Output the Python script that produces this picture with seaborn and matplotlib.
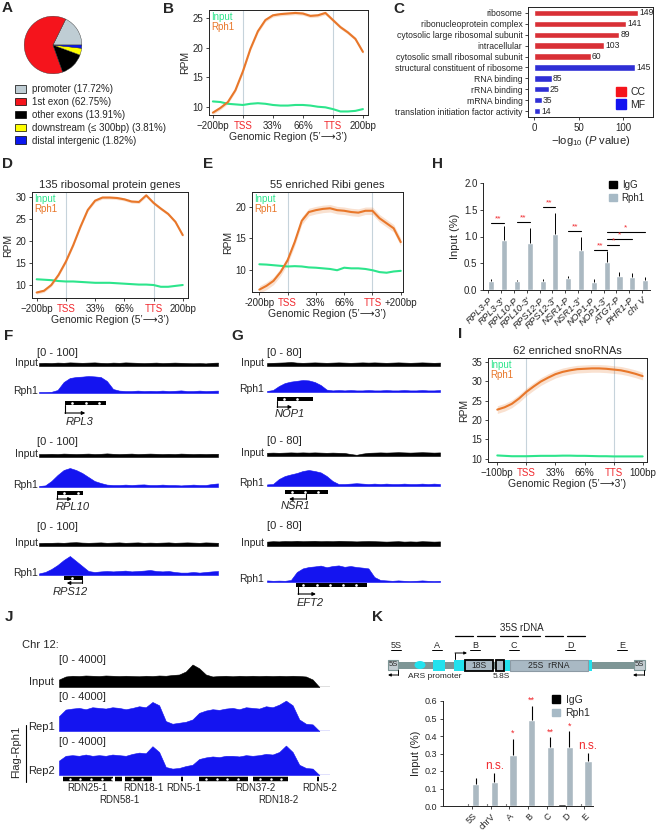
import numpy as np
import pandas as pd
import matplotlib
matplotlib.use('Agg')
import matplotlib.pyplot as plt
import seaborn as sns
from matplotlib.patches import Patch, Rectangle, Ellipse
from matplotlib.lines import Line2D

W, H = 660, 831

# ---------------- data ----------------
# A: peak distribution
pie_labels = ['promoter (17.72%)', '1st exon (62.75%)', 'other exons (13.91%)',
              'downstream (\u2264 300bp) (3.81%)', 'distal intergenic (1.82%)']
pie_values = [17.72, 62.75, 13.91, 3.81, 1.82]
pie_colors = ['#BFCDD4', '#F5141C', '#000000', '#FFFF00', '#0B18EE']

# B, D, E, I: metagene profiles (x: -flank, TSS, 33%, 66%, TTS, +flank)
prof_pos = [0, 0.25, 0.5, 0.75, 1, 1.25, 1.5, 1.75, 2, 2.25, 2.5,
            2.75, 3, 3.25, 3.5, 3.75, 4, 4.25, 4.5, 4.75, 5]
b_rph1 = [9.0, 9.8, 10.8, 12.8, 16.0, 19.8, 22.8, 24.7, 25.5, 25.7, 25.8,
          25.9, 25.8, 25.4, 25.5, 25.9, 24.7, 23.5, 22.6, 21.5, 19.3]
b_input = [10.9, 10.8, 10.5, 10.4, 10.3, 10.5, 10.6, 10.5, 10.3, 10.2, 10.2,
           10.3, 10.3, 10.2, 10.0, 9.9, 9.6, 9.2, 9.2, 9.3, 9.6]
d_rph1 = [8.3, 8.7, 10.0, 12.3, 15.3, 19.0, 23.2, 27.0, 29.1, 29.8, 29.8,
          29.7, 29.4, 28.9, 28.8, 30.3, 28.6, 27.3, 26.1, 24.3, 21.3]
d_input = [11.3, 11.2, 11.1, 10.9, 10.8, 10.8, 10.7, 10.6, 10.5, 10.5, 10.5,
           10.4, 10.3, 10.2, 10.1, 10.1, 10.0, 9.6, 9.6, 9.8, 10.0]
e_rph1 = [6.8, 7.4, 8.2, 9.6, 11.5, 14.4, 17.8, 19.2, 19.5, 19.7, 19.8,
          19.5, 19.4, 19.2, 19.1, 19.4, 19.4, 18.2, 17.4, 16.6, 14.4]
e_input = [10.85, 10.8, 10.7, 10.6, 10.5, 10.55, 10.5, 10.35, 10.3, 10.2, 10.1,
           9.9, 10.3, 10.2, 10.2, 10.1, 9.9, 9.6, 9.5, 9.7, 9.8]
i_rph1 = [22.7, 23.3, 24.2, 25.6, 27.3, 28.7, 30.0, 31.0, 31.9, 32.5, 32.9,
          33.2, 33.3, 33.4, 33.4, 33.3, 33.1, 32.9, 32.5, 32.0, 31.4]
i_input = [10.8, 10.7, 10.6, 10.6, 10.6, 10.65, 10.7, 10.7, 10.7, 10.75, 10.75,
           10.7, 10.7, 10.65, 10.6, 10.6, 10.55, 10.55, 10.55, 10.55, 10.55]
band_b, band_d, band_e, band_i = 0.3, 0.35, 0.6, 1.0
prof_labels_200 = ['\u2212200bp', 'TSS', '33%', '66%', 'TTS', '200bp']
prof_labels_e = ['-200bp', 'TSS', '33%', '66%', 'TTS', '+200bp']
prof_labels_100 = ['\u2212100bp', 'TSS', '33%', '66%', 'TTS', '100bp']

# C: GO enrichment
go_terms = ['ribosome', 'ribonucleoprotein complex', 'cytosolic large ribosomal subunit',
            'intracellular', 'cytosolic small ribosomal subunit',
            'structural constituent of ribosome', 'RNA binding', 'rRNA binding',
            'mRNA binding', 'translation initiation factor activity']
go_logp = [116.3, 102.9, 95.4, 78.3, 63.4, 113.0, 19.8, 16.4, 8.6, 6.7]
go_count = [149, 141, 89, 103, 60, 145, 85, 25, 35, 14]
go_class = ['CC'] * 5 + ['MF'] * 5

# H: ChIP-qPCR
h_genes = ['RPL3-P', "RPL3-3'", 'RPL10-P', "RPL10-3'", 'RPS12-P', "RPS12-3'",
           'NSR1-P', "NSR1-3'", 'NOP1-P', "NOP1-3'", 'ATG7-P', 'PHR1-P', 'chr V']
h_igg = [0.01, 0.01, 0.01, 0.01, 0.015, 0.01, 0.01, 0.01, 0.01, 0.01, 0.01, 0.015, 0.01]
h_igg_err = [0.005] * 13
h_rph1 = [0.17, 0.93, 0.16, 0.87, 0.17, 1.05, 0.23, 0.75, 0.15, 0.53, 0.26, 0.24, 0.19]
h_rph1_err = [0.03, 0.27, 0.02, 0.29, 0.04, 0.39, 0.04, 0.25, 0.05, 0.19, 0.08, 0.08, 0.05]
h_sig = [(0, 1, 1.26, '**'), (2, 3, 1.27, '**'), (4, 5, 1.55, '**'), (6, 7, 1.10, '**'),
         (8, 9, 0.75, '**'), (9, 10, 0.84, '*'), (9, 11, 0.96, '*'), (9, 12, 1.09, '*')]

# F, G: genome browser tracks (signal scaled to track height)
f_input = [
    [0.15, 0.16, 0.15, 0.17, 0.16, 0.18, 0.17, 0.16, 0.17, 0.18, 0.16, 0.15, 0.17, 0.16, 0.18,
     0.17, 0.16, 0.15, 0.16, 0.17, 0.15, 0.16, 0.17, 0.16, 0.15, 0.14, 0.15, 0.13, 0.16, 0.17],
    [0.15, 0.15, 0.16, 0.15, 0.17, 0.16, 0.15, 0.16, 0.17, 0.15, 0.16, 0.18, 0.16, 0.15, 0.16,
     0.17, 0.15, 0.16, 0.17, 0.16, 0.15, 0.16, 0.15, 0.17, 0.16, 0.15, 0.16, 0.15, 0.16, 0.16],
    [0.15, 0.16, 0.16, 0.17, 0.16, 0.18, 0.19, 0.17, 0.16, 0.17, 0.18, 0.16, 0.17, 0.18, 0.16,
     0.17, 0.18, 0.16, 0.17, 0.16, 0.17, 0.18, 0.16, 0.17, 0.18, 0.17, 0.16, 0.18, 0.17, 0.16]]
f_rph1 = [
    [0.05, 0.05, 0.06, 0.15, 0.55, 0.75, 0.8, 0.82, 0.85, 0.83, 0.8, 0.6, 0.2, 0.12, 0.1,
     0.1, 0.12, 0.1, 0.11, 0.1, 0.12, 0.1, 0.11, 0.13, 0.1, 0.1, 0.12, 0.1, 0.11, 0.12],
    [0.05, 0.08, 0.3, 0.6, 0.85, 0.95, 0.85, 0.7, 0.5, 0.3, 0.2, 0.12, 0.1, 0.1, 0.12,
     0.1, 0.12, 0.13, 0.1, 0.1, 0.12, 0.1, 0.1, 0.08, 0.1, 0.12, 0.1, 0.1, 0.15, 0.18],
    [0.08, 0.15, 0.3, 0.5, 0.75, 0.95, 0.7, 0.45, 0.2, 0.15, 0.18, 0.2, 0.18, 0.2, 0.22,
     0.18, 0.2, 0.22, 0.25, 0.2, 0.18, 0.2, 0.15, 0.12, 0.12, 0.15, 0.12, 0.15, 0.18, 0.2]]
g_input = [
    [0.15, 0.16, 0.17, 0.18, 0.2, 0.17, 0.16, 0.17, 0.18, 0.17, 0.16, 0.17, 0.18, 0.17, 0.16,
     0.17, 0.18, 0.17, 0.18, 0.17, 0.16, 0.17, 0.18, 0.17, 0.16, 0.17, 0.18, 0.17, 0.16, 0.17],
    [0.16, 0.17, 0.16, 0.17, 0.18, 0.17, 0.18, 0.17, 0.18, 0.17, 0.16, 0.17, 0.16, 0.15, 0.1,
     0.06, 0.12, 0.16, 0.17, 0.18, 0.17, 0.18, 0.19, 0.18, 0.17, 0.18, 0.19, 0.18, 0.17, 0.18],
    [0.22, 0.24, 0.23, 0.25, 0.24, 0.26, 0.24, 0.25, 0.26, 0.24, 0.25, 0.24, 0.26, 0.25, 0.24,
     0.23, 0.24, 0.25, 0.24, 0.23, 0.22, 0.23, 0.24, 0.22, 0.23, 0.22, 0.24, 0.23, 0.22, 0.23]]
g_rph1 = [
    [0.05, 0.1, 0.3, 0.45, 0.52, 0.56, 0.6, 0.58, 0.5, 0.35, 0.12, 0.08, 0.1, 0.08, 0.1,
     0.08, 0.08, 0.1, 0.08, 0.08, 0.1, 0.08, 0.08, 0.1, 0.08, 0.08, 0.1, 0.08, 0.08, 0.1],
    [0.08, 0.1, 0.35, 0.5, 0.58, 0.65, 0.75, 0.8, 0.75, 0.68, 0.5, 0.25, 0.1, 0.1, 0.12,
     0.14, 0.12, 0.1, 0.12, 0.1, 0.12, 0.1, 0.1, 0.12, 0.1, 0.1, 0.12, 0.1, 0.12, 0.1],
    [0.08, 0.06, 0.07, 0.06, 0.1, 0.5, 0.68, 0.75, 0.78, 0.82, 0.74, 0.8, 0.83, 0.76, 0.8,
     0.75, 0.72, 0.68, 0.25, 0.1, 0.08, 0.06, 0.08, 0.06, 0.05, 0.06, 0.08, 0.06, 0.05, 0.06]]
f_scale = '[0 - 100]'
g_scale = '[0 - 80]'
# name, box start, box end, arrow base, arrow tip (track bins)
f_genes = [('RPL3', 4.2, 10.9, 4.2, 7.5), ('RPL10', 2.9, 7.1, 2.9, 5.3), ('RPS12', 4.1, 7.1, 7.0, 4.5)]
g_genes = [('NOP1', 1.7, 7.7, 1.7, 4.2), ('NSR1', 3.0, 10.2, 6.5, 3.7), ('EFT2', 4.9, 16.8, 5.2, 8.2)]

# J: rDNA locus tracks
j_input = [0.3, 0.42, 0.45, 0.44, 0.46, 0.45, 0.44, 0.46, 0.45, 0.44, 0.45, 0.44, 0.43, 0.45,
           0.44, 0.46, 0.45, 0.48, 0.5, 0.62, 0.9, 0.75, 0.5, 0.42, 0.44, 0.45, 0.43, 0.45,
           0.44, 0.45, 0.44, 0.45, 0.44, 0.45, 0.44, 0.45, 0.44, 0.42, 0.3, 0.0]
j_rep1 = [0.45, 0.65, 0.68, 0.7, 0.66, 0.72, 0.7, 0.68, 0.72, 0.7, 0.66, 0.7, 0.75, 0.72,
          0.88, 0.78, 0.3, 0.22, 0.25, 0.28, 0.35, 0.55, 0.62, 0.66, 0.64, 0.68, 0.7, 0.66,
          0.72, 0.7, 0.68, 0.75, 0.72, 0.8, 0.92, 0.78, 0.35, 0.22, 0.2, 0.0]
j_rep2 = [0.45, 0.6, 0.62, 0.6, 0.64, 0.6, 0.62, 0.6, 0.64, 0.62, 0.6, 0.66, 0.7, 0.68,
          0.9, 0.72, 0.25, 0.2, 0.22, 0.28, 0.32, 0.5, 0.55, 0.58, 0.56, 0.6, 0.6, 0.58,
          0.62, 0.6, 0.62, 0.66, 0.64, 0.72, 0.92, 0.72, 0.32, 0.22, 0.2, 0.0]
j_gene_segs = [(0.6, 8.1), (8.4, 9.4), (9.9, 13.9), (18.3, 18.6), (21.0, 28.3), (29.1, 34.3), (38.6, 38.9)]
j_gene_names = [('RDN25-1', 4.3, 0), ('RDN58-1', 9.1, 1), ('RDN18-1', 12.6, 0), ('RDN5-1', 18.7, 0),
                ('RDN37-2', 29.4, 0), ('RDN18-2', 32.8, 1), ('RDN5-2', 39.1, 0)]

# K: rDNA repeat map (map units) and ChIP-qPCR
k_backbone = (388, 645)
k_5s = [(388, 398), (634, 645)]
k_cyan = [(433, 445), (454, 464), (505, 510), (588, 592)]
k_ars = 420
k_rrna = [('18S', 465, 493, 'black'), ('', 496, 504, 'black'), ('25S  rRNA', 510, 588, '#8C9AA4')]
k_amplicons = [('5S', 396), ('A', 437), ('B', 475), ('C', 514), ('D', 570), ('E', 622)]
k_35s_segs = [(455, 473), (477, 495), (500, 518), (522, 540), (545, 563), (567, 585)]
k_sites = ['5S', 'chrV', 'A', 'B', 'C', 'D', 'E']
k_igg = [0.008, 0.007, 0.008, 0.006, 0.006, 0.012, 0.007]
k_igg_err = [0.002] * 7
k_rph1 = [0.125, 0.136, 0.293, 0.494, 0.335, 0.337, 0.259]
k_rph1_err = [0.035, 0.052, 0.09, 0.077, 0.058, 0.09, 0.044]
k_sig = ['', 'n.s.', '*', '**', '**', '*', 'n.s.']

# ---------------- style ----------------
c_rph1 = '#E8772A'
c_input = '#2DE58C'
c_red = '#F0282D'
c_vline = '#C6D3DB'
c_bar = '#A7BAC6'
c_blue = '#1414F0'

sns.set_theme(style='ticks')
plt.rcParams['font.family'] = ['Liberation Sans', 'DejaVu Sans']
plt.rcParams.update({
    'axes.linewidth': 0.7, 'axes.edgecolor': '#222222',
    'xtick.major.width': 0.6, 'ytick.major.width': 0.6,
    'xtick.major.size': 2.5, 'ytick.major.size': 2.5,
    'xtick.major.pad': 1.5, 'ytick.major.pad': 1.5,
    'xtick.labelsize': 7, 'ytick.labelsize': 7, 'axes.labelsize': 7.5,
    'mathtext.fontset': 'custom', 'mathtext.rm': 'Liberation Sans',
    'mathtext.it': 'Liberation Sans:italic'})

fig = plt.figure(figsize=(W / 100, H / 100), dpi=100)


def px_ax(x0, y0, x1, y1):
    return fig.add_axes([x0 / W, 1 - y1 / H, (x1 - x0) / W, (y1 - y0) / H])


def ftext(x, y, s, **kw):
    kw.setdefault('fontsize', 7.5)
    kw.setdefault('va', 'center')
    fig.text(x / W, 1 - y / H, s, **kw)


def letter(x, y, s):
    ftext(x, y, s, fontsize=11, fontweight='bold', ha='left')


def profile(box, rph1, inp, band, ylim, yticks, xlim, xlabels, title=None):
    ax = px_ax(*box)
    for v in (1, 4):
        ax.axvline(v, color=c_vline, lw=0.8, zorder=0)
    rph1 = np.asarray(rph1)
    ax.fill_between(prof_pos, rph1 - band, rph1 + band, color=c_rph1, alpha=0.22, lw=0)
    df = pd.DataFrame({'pos': prof_pos, 'Input': inp, 'Rph1': rph1})
    sns.lineplot(data=df, x='pos', y='Input', color=c_input, lw=1.5, ax=ax)
    sns.lineplot(data=df, x='pos', y='Rph1', color=c_rph1, lw=1.5, ax=ax)
    ax.set_xlim(xlim)
    ax.set_ylim(ylim)
    ax.set_yticks(yticks)
    ax.set_xticks([0, 1, 2, 3, 4, 5])
    ax.set_xticklabels(xlabels)
    for lab in ax.get_xticklabels():
        if lab.get_text() in ('TSS', 'TTS'):
            lab.set_color(c_red)
    ax.set_xlabel('Genomic Region (5\u2019\u27f63\u2019)', labelpad=1)
    ax.set_ylabel('RPM', labelpad=2)
    ax.annotate('Input', xy=(0, 1), xycoords='axes fraction', xytext=(1.5, -1.5),
                textcoords='offset points', va='top', color=c_input, fontsize=7)
    ax.annotate('Rph1', xy=(0, 1), xycoords='axes fraction', xytext=(1.5, -9),
                textcoords='offset points', va='top', color=c_rph1, fontsize=7)
    if title:
        ax.set_title(title, fontsize=8, pad=3)
    return ax


def track(box, values, color, xmax=None):
    ax = px_ax(*box)
    x = np.arange(len(values))
    ax.fill_between(x, 0, values, color=color, lw=0.4, edgecolor=color)
    ax.axhline(0, color=color, lw=0.9)
    ax.set_xlim(0, xmax if xmax else len(values) - 1)
    ax.set_ylim(0, 1)
    ax.axis('off')
    return ax


def gene(x0, x1, nbins, g, box_y, arrow_y, label_y, label_x):
    name, s, e, base, tip = g
    ax = px_ax(x0, box_y - 4, x1, label_y + 6)
    ax.set_xlim(0, nbins - 1)
    ax.set_ylim(label_y + 6, box_y - 4)
    ax.axis('off')
    ax.add_patch(Rectangle((s, box_y - 2.3), e - s, 4.6, color='black', lw=0))
    dots = np.arange(s + 1.2, e - 0.5, 2.2)
    ax.plot(dots, [box_y] * len(dots), 'o', ms=0.9, color='white')
    ax.plot([base, base], [box_y + 2.3, arrow_y], color='black', lw=0.8)
    ax.annotate('', xy=(tip, arrow_y), xytext=(base, arrow_y),
                arrowprops=dict(arrowstyle='-|>', lw=0.8, color='black', mutation_scale=5,
                                shrinkA=0, shrinkB=0))
    ax.text(label_x, label_y, name, style='italic', ha='center', va='center', fontsize=8)


# ---------------- A ----------------
letter(2, 8, 'A')
ax = px_ax(17, 9, 89, 81)
ax.pie(pie_values, colors=pie_colors, startangle=0, counterclock=True,
       wedgeprops=dict(lw=0.3, edgecolor='#333333'))
ax.set_aspect('equal')
fig.legend([Patch(facecolor=c, edgecolor='black', lw=0.5) for c in pie_colors], pie_labels,
           loc='upper left', bbox_to_anchor=(15 / W, 1 - 84 / H), frameon=False, fontsize=7,
           handlelength=1.1, handleheight=0.85, labelspacing=0.3, handletextpad=0.6,
           borderpad=0, borderaxespad=0)

# ---------------- B ----------------
letter(163, 9, 'B')
profile((209, 10, 368, 115), b_rph1, b_input, band_b, (8.6, 26.4), [10, 15, 20, 25],
        (-0.13, 5.17), prof_labels_200)

# ---------------- C ----------------
letter(393, 9, 'C')
ax = px_ax(528, 7, 653, 117)
sns.barplot(x=go_logp, y=go_terms, hue=go_class, palette={'CC': '#F5141C', 'MF': c_blue},
            dodge=False, width=0.6, legend=False, ax=ax)
for i, (v, c) in enumerate(zip(go_logp, go_count)):
    ax.text(v + 1.5, i, str(c), va='center', fontsize=6.2)
ax.set_xlim(-6.7, 133)
ax.set_ylim(9.55, -0.55)
ax.set_xticks([0, 50, 100])
ax.tick_params(axis='y', labelsize=6.2)
ax.set_ylabel('')
ax.set_xlabel(r'$\mathregular{-log_{10}}$ ($\it{P}$ value)', fontsize=8, labelpad=1)
ax.legend(handles=[Patch(color='#F5141C'), Patch(color=c_blue)], labels=['CC', 'MF'],
          loc='lower right', frameon=False, fontsize=7.5, handlelength=1.0, handleheight=1.0,
          handletextpad=0.4, labelspacing=0.25, borderaxespad=0.3)

# ---------------- D, E ----------------
letter(2, 164, 'D')
profile((32, 192, 188, 298), d_rph1, d_input, band_d, (7.06, 31.06), [10, 15, 20, 25, 30],
        (-0.16, 5.18), prof_labels_200, title='135 ribosomal protein genes')
letter(203, 164, 'E')
profile((252, 192, 403, 292), e_rph1, e_input, band_e, (6.42, 22.4), [10, 15, 20],
        (-0.26, 5.08), prof_labels_e, title='55 enriched Ribi genes')

# ---------------- H ----------------
letter(432, 164, 'H')
ax = px_ax(483, 183, 650, 290)
h_df = pd.DataFrame({'gene': h_genes * 2, 'group': ['IgG'] * 13 + ['Rph1'] * 13,
                     'val': h_igg + h_rph1})
sns.barplot(data=h_df, x='gene', y='val', hue='group', hue_order=['IgG', 'Rph1'],
            palette={'IgG': 'black', 'Rph1': c_bar}, width=0.95, errorbar=None,
            legend=False, ax=ax)
rph1_x = []
for cont, errs in zip(ax.containers, [h_igg_err, h_rph1_err]):
    xs = [b.get_x() + b.get_width() / 2 for b in cont]
    ys = [b.get_height() for b in cont]
    ax.errorbar(xs, ys, yerr=[np.zeros(len(errs)), errs], fmt='none', ecolor='black',
                elinewidth=0.7)
    rph1_x = xs
for i, j, y, s in h_sig:
    ax.plot([rph1_x[i], rph1_x[j]], [y, y], color='black', lw=0.8)
    ax.text((rph1_x[i] + rph1_x[j]) / 2, y + 0.01, s, color=c_red, ha='center',
            va='bottom', fontsize=6)
ax.set_ylim(0, 2)
ax.set_xlim(-0.42, 12.62)
ax.set_yticks([0, 0.5, 1.0, 1.5, 2.0])
ax.set_yticklabels(['0.0', '0.5', '1.0', '1.5', '2.0'])
ax.set_xlabel('')
ax.set_ylabel('Input (%)', fontsize=8, labelpad=3)
ax.set_xticks(range(13))
ax.set_xticklabels(h_genes, rotation=45, ha='right', rotation_mode='anchor',
                   style='italic', fontsize=6.8)
sns.despine(ax=ax)
fig.legend([Patch(color='black'), Patch(color=c_bar)], ['IgG', 'Rph1'], loc='upper left',
           bbox_to_anchor=(609 / W, 1 - 180 / H), frameon=False, fontsize=7,
           handlelength=0.8, handleheight=0.8, handletextpad=0.5, labelspacing=0.3,
           borderpad=0, borderaxespad=0)

# ---------------- F, G ----------------
letter(4, 336, 'F')
letter(231, 336, 'G')
f_rows = [(353, 366, 393, 403, 413, 422), (442, 457, 487, 493, 499, 507),
          (527, 546, 575, 578, 583, 592)]
g_rows = [(353, 366, 392, 399, 407, 414), (441, 456, 486, 492, 499, 506),
          (526, 546, 582, 585, 594, 603)]
f_label_x = [6.5, 5.5, 5.0]
g_label_x = [3.9, 4.7, 7.2]
for k in range(3):
    sc, ib, rb, by, ay, ly = f_rows[k]
    ftext(37, sc, f_scale, ha='left', fontsize=8)
    track((39, ib - 20, 218, ib), f_input[k], 'black')
    ftext(38, ib - 3, 'Input', ha='right')
    track((39, rb - 20, 218, rb), f_rph1[k], c_blue)
    ftext(38, rb - 2, 'Rph1', ha='right')
    gene(39, 218, 30, f_genes[k], by, ay, ly, f_label_x[k])

    sc, ib, rb, by, ay, ly = g_rows[k]
    ftext(267, sc, g_scale, ha='left', fontsize=8)
    track((267, ib - 20, 440, ib), g_input[k], 'black')
    ftext(264, ib - 3, 'Input', ha='right')
    track((267, rb - 20, 440, rb), g_rph1[k], c_blue)
    ftext(264, rb - 3, 'Rph1', ha='right')
    gene(267, 440, 30, g_genes[k], by, ay, ly, g_label_x[k])

# ---------------- I ----------------
letter(458, 334, 'I')
profile((488, 358, 647, 462), i_rph1, i_input, band_i, (9.1, 36.1), [10, 15, 20, 25, 30, 35],
        (-0.32, 5.15), prof_labels_100, title='62 enriched snoRNAs')

# ---------------- J ----------------
letter(5, 617, 'J')
ftext(22, 645, 'Chr 12:', ha='left', fontsize=8)
for y in (660, 697, 742):
    ftext(59, y, '[0 - 4000]', ha='left', fontsize=8)
track((59, 662, 330, 687), j_input, 'black', xmax=40.6)
ftext(54, 682, 'Input', ha='right', fontsize=8)
track((59, 698, 330, 731), j_rep1, c_blue, xmax=40.6)
track((59, 743, 330, 775), j_rep2, c_blue, xmax=40.6)
ftext(28, 727, 'Rep1', ha='left', fontsize=8)
ftext(28, 771, 'Rep2', ha='left', fontsize=8)
ftext(16, 752, 'Flag-Rph1', ha='center', rotation=90, fontsize=8)
fig.add_artist(Line2D([26 / W, 26 / W], [1 - 725 / H, 1 - 782 / H], color='black', lw=0.8))
ax = px_ax(59, 774, 330, 806)
ax.set_xlim(0, 40.6)
ax.set_ylim(806, 774)
ax.axis('off')
for s, e in j_gene_segs:
    ax.plot([s, e], [779, 779], color='black', lw=3.2, solid_capstyle='butt')
    if e - s > 2:
        dots = np.arange(s + 1.0, e, 1.6)
        ax.plot(dots, [779] * len(dots), 's', ms=0.7, color='white')
for name, x, row in j_gene_names:
    ax.text(x, 788 + 12 * row, name, ha='center', va='center', fontsize=7)

# ---------------- K ----------------
letter(372, 617, 'K')
ax = px_ax(380, 620, 655, 682)
ax.set_xlim(380, 655)
ax.set_ylim(682, 620)
ax.axis('off')
ax.text(522, 628, '35S rDNA', ha='center', va='center', fontsize=7)
for s, e in k_35s_segs:
    ax.plot([s, e], [636, 636], color='black', lw=0.9)
for name, x in k_amplicons:
    ax.text(x, 645, name, ha='center', va='center', fontsize=6.5)
    ax.plot([x - 5, x + 5], [649.5, 649.5], color='black', lw=0.7)
ax.add_patch(Rectangle((k_backbone[0], 662), k_backbone[1] - k_backbone[0], 7,
                       color='#7E9696', lw=0))
for s, e in k_5s:
    ax.add_patch(Rectangle((s, 660), e - s, 10, facecolor='#C3CDD2', edgecolor='#7E9696',
                           lw=0.8))
    ax.text((s + e) / 2, 665, '5S', ha='center', va='center', fontsize=5.5)
for s, e in k_cyan:
    ax.add_patch(Rectangle((s, 659.5), e - s, 11, color='#22E2EE', lw=0))
ax.add_patch(Ellipse((k_ars, 665), 11, 8, color='#22E2EE', lw=0))
for name, s, e, ec in k_rrna:
    ax.add_patch(Rectangle((s, 659.5), e - s, 11, facecolor='#A9B9C4', edgecolor=ec,
                           lw=1.3 if ec == 'black' else 0.8))
    if name:
        ax.text((s + e) / 2, 665, name, ha='center', va='center', fontsize=6.2)
ax.text(435, 676, 'ARS promoter', ha='center', va='center', fontsize=6)
ax.text(501, 676, '5.8S', ha='center', va='center', fontsize=6)
ax.plot([455, 455], [659, 653], color='black', lw=0.7)
ax.annotate('', xy=(467, 653), xytext=(455, 653),
            arrowprops=dict(arrowstyle='-|>', lw=0.7, color='black', mutation_scale=4,
                            shrinkA=0, shrinkB=0))
for vx, tip in ((398, 388), (644, 633)):
    ax.plot([vx, vx], [670, 675], color='black', lw=0.7)
    ax.annotate('', xy=(tip, 675), xytext=(vx, 675),
                arrowprops=dict(arrowstyle='-|>', lw=0.7, color='black', mutation_scale=4,
                                shrinkA=0, shrinkB=0))

ax = px_ax(443, 701, 593, 806)
k_df = pd.DataFrame({'site': k_sites * 2, 'group': ['IgG'] * 7 + ['Rph1'] * 7,
                     'val': k_igg + k_rph1})
sns.barplot(data=k_df, x='site', y='val', hue='group', hue_order=['IgG', 'Rph1'],
            palette={'IgG': 'black', 'Rph1': c_bar}, width=0.78, errorbar=None,
            legend=False, ax=ax)
for cont, errs in zip(ax.containers, [k_igg_err, k_rph1_err]):
    xs = [b.get_x() + b.get_width() / 2 for b in cont]
    ys = [b.get_height() for b in cont]
    ax.errorbar(xs, ys, yerr=[np.zeros(len(errs)), errs], fmt='none', ecolor='black',
                elinewidth=0.8)
    rph1_x, rph1_top = xs, [y + e for y, e in zip(ys, errs)]
for x, top, s in zip(rph1_x, rph1_top, k_sig):
    if s:
        ax.text(x, top + 0.005, s, color=c_red, ha='center', va='bottom',
                fontsize=8.5 if s == 'n.s.' else 6.5)
ax.set_ylim(0, 0.6)
ax.set_xlim(-1.55, 6.47)
ax.set_yticks([0, 0.1, 0.2, 0.3, 0.4, 0.5, 0.6])
ax.set_yticklabels(['0.0', '0.1', '0.2', '0.3', '0.4', '0.5', '0.6'], fontsize=6.5)
ax.set_xlabel('')
ax.set_ylabel('Input (%)', fontsize=8, labelpad=3)
ax.set_xticks(range(7))
ax.set_xticklabels(k_sites, rotation=45, ha='right', rotation_mode='anchor', fontsize=6.5)
sns.despine(ax=ax)
fig.legend([Patch(color='black'), Patch(color=c_bar)], ['IgG', 'Rph1'], loc='upper left',
           bbox_to_anchor=(552 / W, 1 - 695 / H), frameon=False, fontsize=7.5,
           handlelength=0.8, handleheight=0.8, handletextpad=0.5, labelspacing=0.3,
           borderpad=0, borderaxespad=0)

fig.savefig('out.png', dpi=100)
